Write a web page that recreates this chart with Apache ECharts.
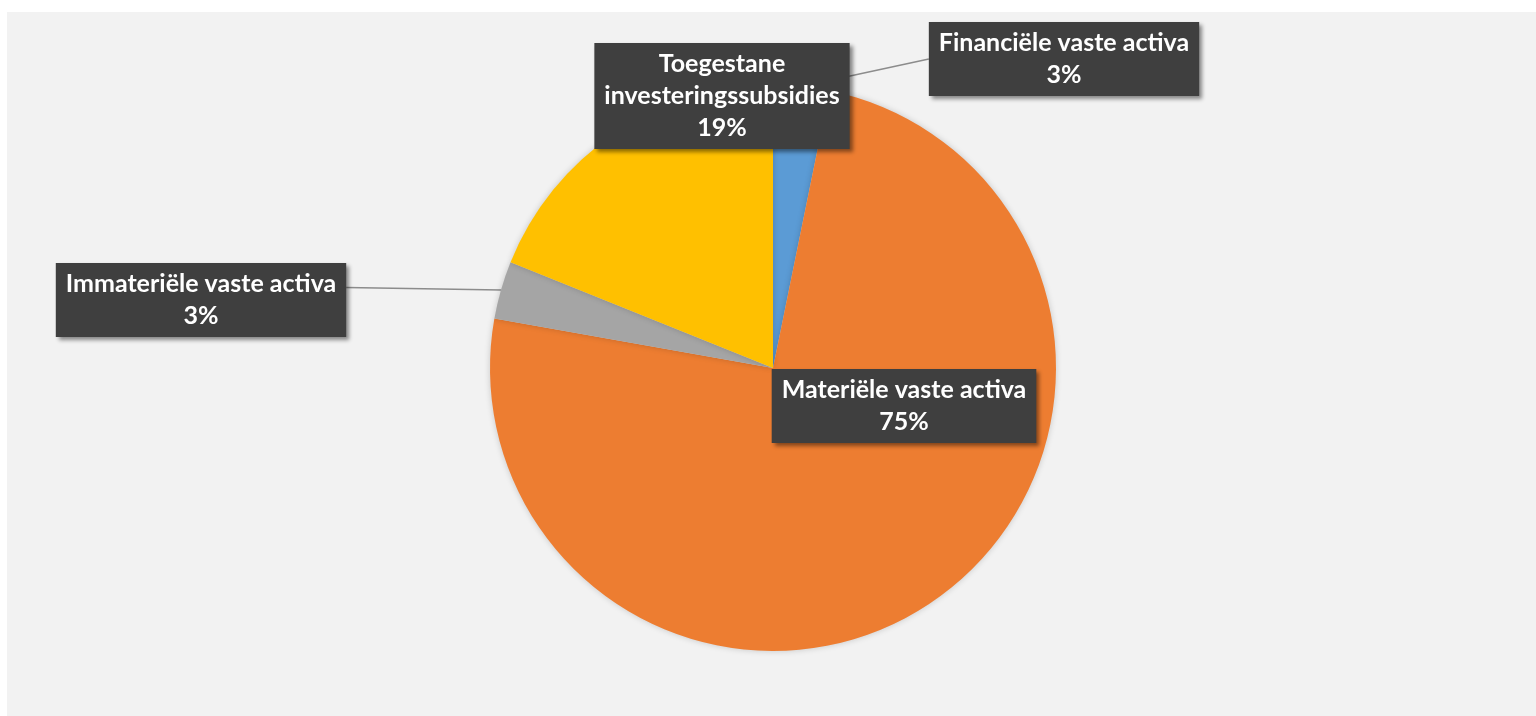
<!DOCTYPE html>
<html>
<head>
<meta charset="utf-8">
<title>Vaste activa</title>
<script src="https://cdn.jsdelivr.net/npm/echarts@6/dist/echarts.min.js"></script>
<style>
  html, body { margin: 0; padding: 0; background: #ffffff; }
  #panel { position: absolute; left: 7px; top: 12px; width: 1529px; height: 704px; background: #f2f2f2; }
  #chart { position: absolute; left: 0; top: 0; width: 1536px; height: 716px; }
</style>
</head>
<body>
<div id="panel"></div>
<div id="chart"></div>
<script>
// Shares of the fixed assets (percent of total)
const categories = [
  'Financiële vaste activa',
  'Materiële vaste activa',
  'Immateriële vaste activa',
  'Toegestane\ninvesteringssubsidies'
];
const shares = [3.2, 74.6, 3.3, 18.9];
const colors = ['#5b9bd5', '#ed7d31', '#a5a5a5', '#ffc000'];

// Callout placement: horizontal centre and top edge of each label box,
// plus where along the box side the leader line attaches (fraction of height)
const labelSpots = [
  { cx: 1064, top: 22, line: true, attach: 0.5 },
  { cx: 904, top: 369, line: false, attach: 0.5 },
  { cx: 201, top: 263, line: true, attach: 0.33 },
  { cx: 722, top: 43, line: false, attach: 0.5 }
];

const chart = echarts.init(document.getElementById('chart'), null, { renderer: 'canvas' });

const data = categories.map((name, i) => ({
  name: name,
  value: shares[i],
  itemStyle: { color: colors[i] },
  labelLine: { show: labelSpots[i].line }
}));

chart.setOption({
  animation: false,
  series: [{
    type: 'pie',
    center: [773, 368],
    radius: 283,
    startAngle: 90,
    clockwise: true,
    percentPrecision: 0,
    data: data,
    itemStyle: {
      borderWidth: 0,
      shadowBlur: 6,
      shadowColor: 'rgba(0,0,0,0.18)'
    },
    label: {
      show: true,
      position: 'outside',
      formatter: '{b}\n{d}%',
      color: '#ffffff',
      fontFamily: 'Lato',
      fontWeight: 'bold',
      fontSize: 25,
      lineHeight: 32,
      align: 'center',
      backgroundColor: '#3f3f3f',
      padding: [5, 10, 5, 10],
      shadowColor: 'rgba(0,0,0,0.45)',
      shadowBlur: 4,
      shadowOffsetX: 3,
      shadowOffsetY: 3
    },
    labelLine: {
      show: true,
      length: 20,
      length2: 20,
      lineStyle: { color: '#8c8c8c', width: 1.5 }
    },
    labelLayout: function (params) {
      const spot = labelSpots[params.dataIndex];
      const out = { x: spot.cx, y: spot.top, align: 'center', verticalAlign: 'top' };
      const pts = params.labelLinePoints;
      if (spot.line && pts && pts.length) {
        const w = params.labelRect.width;
        const h = params.labelRect.height;
        const edgeX = pts[0][0] < spot.cx ? spot.cx - w / 2 : spot.cx + w / 2;
        out.labelLinePoints = [pts[0], [edgeX, spot.top + h * spot.attach]];
      }
      return out;
    }
  }]
});
</script>
</body>
</html>
